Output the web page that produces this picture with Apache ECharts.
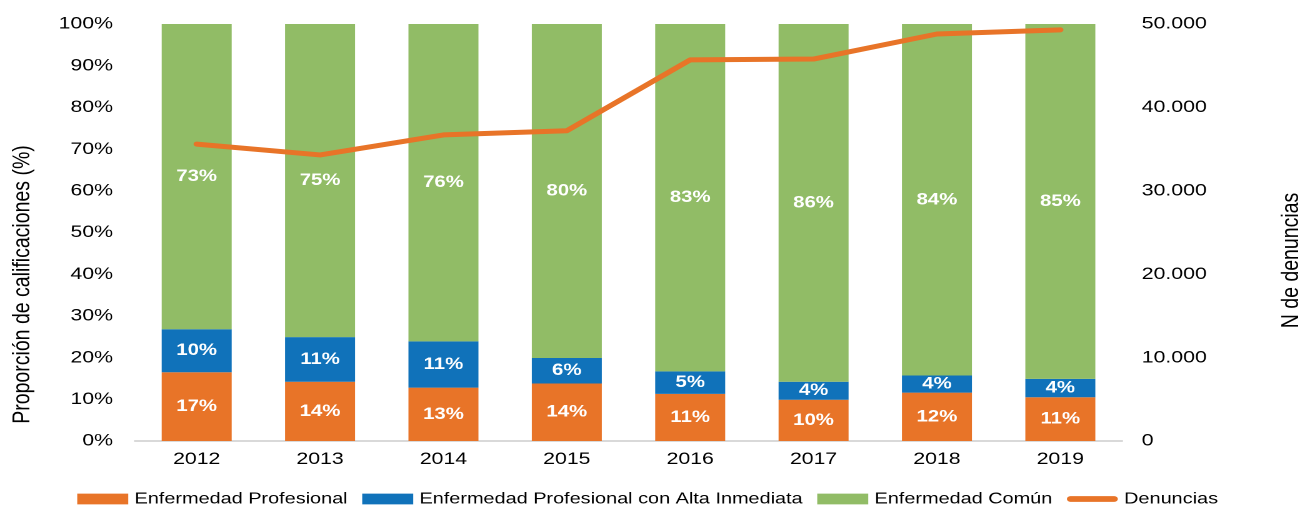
<!DOCTYPE html>
<html>
<head>
<meta charset="utf-8">
<script src="https://cdn.jsdelivr.net/npm/echarts@6/dist/echarts.min.js"></script>
<style>
html,body{margin:0;padding:0;background:#fff;overflow:hidden;width:1305px;height:506px;}
#c{width:1044px;height:506px;transform:scaleX(1.25);transform-origin:0 0;}
</style>
</head>
<body>
<div id="c"></div>
<script>
const years = ['2012','2013','2014','2015','2016','2017','2018','2019'];
const enfermedadProfesional = [16.5, 14.2, 12.8, 13.8, 11.3, 9.9, 11.6, 10.5];
const enfermedadProfesionalAlta = [10.3, 10.7, 11.1, 6.1, 5.4, 4.3, 4.1, 4.4];
const enfermedadComun = [73.2, 75.1, 76.1, 80.1, 83.3, 85.8, 84.3, 85.4];
const denuncias = [35600, 34300, 36700, 37200, 45700, 45800, 48800, 49300];

const FONT = '"Liberation Sans", Arial, sans-serif';
const cOrange = '#E87428', cBlue = '#1072BA', cGreen = '#91BC66';

const chart = echarts.init(document.getElementById('c'), null, {renderer:'canvas', devicePixelRatio:2});
const barLabel = {
  show:true, position:'inside', color:'#fff', fontFamily:FONT, fontWeight:'bold', fontSize:16.3,
  formatter: p => Math.round(p.value) + '%'
};
chart.setOption({
  animation:false,
  textStyle:{fontFamily:FONT},
  grid:{left:108, right:146.4, top:24, bottom:65, containLabel:false},
  legend:{
    left:61.8, top:491, padding:0, itemWidth:40.8, itemHeight:10.7, itemGap:11.7,
    textStyle:{fontFamily:FONT, fontSize:15.9, color:'#000'},
    data:[
      {name:'Enfermedad Profesional', icon:'rect'},
      {name:'Enfermedad Profesional con Alta Inmediata', icon:'rect'},
      {name:'Enfermedad Común', icon:'rect'},
      {name:'Denuncias', icon:'path://M0,0 M40.8,10.7 M2.85,2.5 L37.95,2.5 A2.85,2.85 0 0 1 37.95,8.2 L2.85,8.2 A2.85,2.85 0 0 1 2.85,2.5 Z'}
    ]
  },
  xAxis:{
    type:'category', data:years,
    axisLine:{show:true, lineStyle:{color:'#D9D9D9', width:2}},
    axisTick:{show:false},
    axisLabel:{fontFamily:FONT, fontSize:17, color:'#000', margin:10}
  },
  yAxis:[
    {type:'value', min:0, max:100, interval:10,
     axisLine:{show:false}, axisTick:{show:false}, splitLine:{show:false},
     axisLabel:{fontFamily:FONT, fontSize:17, color:'#000', margin:17.6, formatter:'{value}%'}},
    {type:'value', min:0, max:50000, interval:10000, position:'right',
     axisLine:{show:false}, axisTick:{show:false}, splitLine:{show:false},
     axisLabel:{fontFamily:FONT, fontSize:17, color:'#000', margin:15.8,
       formatter: v => String(v).replace(/\B(?=(\d{3})+(?!\d))/g, '.')}}
  ],
  graphic:[
    {type:'text', x:17.9, y:284.5, rotation:Math.PI/2,
     style:{text:'Proporción de calificaciones (%)', fill:'#000', font:'19.5px "Liberation Sans", Arial, sans-serif', align:'center', verticalAlign:'middle'}},
    {type:'text', x:1033.2, y:260.5, rotation:Math.PI/2,
     style:{text:'N de denuncias', fill:'#000', font:'19.5px "Liberation Sans", Arial, sans-serif', align:'center', verticalAlign:'middle'}}
  ],
  series:[
    {name:'Enfermedad Profesional', type:'bar', stack:'t', barWidth:56, data:enfermedadProfesional,
     itemStyle:{color:cOrange}, label:barLabel},
    {name:'Enfermedad Profesional con Alta Inmediata', type:'bar', stack:'t', data:enfermedadProfesionalAlta,
     itemStyle:{color:cBlue}, label:barLabel},
    {name:'Enfermedad Común', type:'bar', stack:'t', data:enfermedadComun,
     itemStyle:{color:cGreen}, label:barLabel},
    {name:'Denuncias', type:'line', yAxisIndex:1, data:denuncias, symbol:'none', z:5,
     lineStyle:{color:cOrange, width:5, cap:'round', join:'round'}, itemStyle:{color:cOrange}}
  ]
});
</script>
</body>
</html>
